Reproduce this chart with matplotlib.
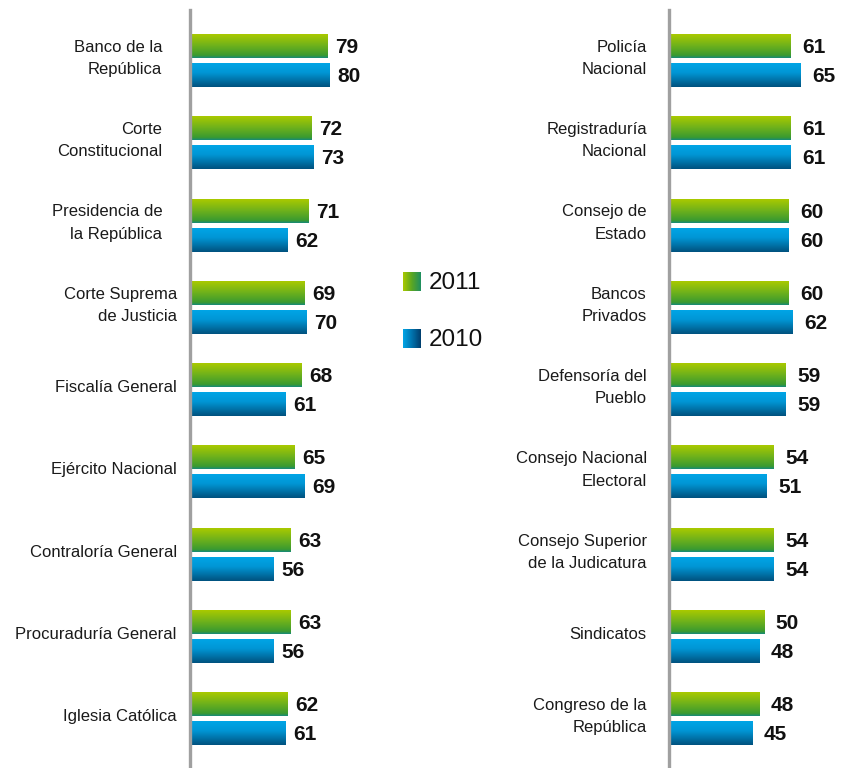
import numpy as np
import matplotlib
matplotlib.use("Agg")
import matplotlib.pyplot as plt
from matplotlib.colors import LinearSegmentedColormap

plt.rcParams['font.family'] = ['Liberation Sans', 'DejaVu Sans']

# datos
left_labels = ["Banco de la\nRepública", "Corte\nConstitucional", "Presidencia de\nla República",
               "Corte Suprema\nde Justicia", "Fiscalía General", "Ejército Nacional",
               "Contraloría General", "Procuraduría General", "Iglesia Católica"]
left_2011 = [79, 72, 71, 69, 68, 65, 63, 63, 62]
left_2010 = [80, 73, 62, 70, 61, 69, 56, 56, 61]

right_labels = ["Policía\nNacional", "Registraduría\nNacional", "Consejo de\nEstado",
                "Bancos\nPrivados", "Defensoría del\nPueblo", "Consejo Nacional\nElectoral",
                "Consejo Superior\nde la Judicatura", "Sindicatos", "Congreso de la\nRepública"]
right_2011 = [61, 61, 60, 60, 59, 54, 54, 50, 48]
right_2010 = [65, 61, 60, 62, 59, 51, 54, 48, 45]

years = ["2011", "2010"]

green = LinearSegmentedColormap.from_list("g", [(0, "#a9c900"), (0.45, "#72b31a"),
                                               (0.9, "#3a9a30"), (1, "#178a78")])
blue = LinearSegmentedColormap.from_list("b", [(0, "#00a5e6"), (0.4, "#0096d5"),
                                              (1, "#00527f")])
green_h = LinearSegmentedColormap.from_list("gh", ["#a9c900", "#5aa624", "#1f8f60"])
blue_h = LinearSegmentedColormap.from_list("bh", ["#00a5e6", "#0073ad", "#003e6e"])

W, H = 843, 768
fig = plt.figure(figsize=(W / 100, H / 100), dpi=100)

grad = np.linspace(0, 1, 64).reshape(-1, 1)
off = 0.176
bh = 0.29


def panel(x0px, wpx, xmin, scale, labels, v11, v10, pads, lpad):
    ax = fig.add_axes([x0px / W, 0, wpx / W, 1 - 10 / H])
    xmax = xmin + wpx / scale
    n = len(labels)
    for i in range(n):
        y = -i
        for v, yc, cm in [(v11[i], y + off, green), (v10[i], y - off, blue)]:
            ax.imshow(grad, extent=(xmin, v, yc - bh / 2, yc + bh / 2), origin="upper",
                      aspect="auto", cmap=cm, interpolation="bilinear", zorder=2)
            ax.annotate(str(v), (v, yc), xytext=(lpad, -1), textcoords="offset points",
                        ha="left", va="center", fontsize=15, fontweight="bold",
                        color="#111111")
        ax.annotate(labels[i], (xmin, y), xytext=(-pads[i], 1.5), textcoords="offset points",
                    ha="right", va="center", fontsize=12, color="#1a1a1a",
                    multialignment="right", linespacing=1.6, annotation_clip=False)
    ax.set_xlim(xmin, xmax)
    span = 758 / 82.3
    ax.set_ylim(0.614 - span, 0.614)
    ax.set_xticks([])
    ax.set_yticks([])
    for s in ["top", "right", "bottom"]:
        ax.spines[s].set_visible(False)
    ax.spines["left"].set_color("#a0a0a0")
    ax.spines["left"].set_linewidth(2.4)
    ax.spines["left"].set_zorder(3)
    ax.patch.set_alpha(0)
    return ax


panel(190, 200, 20, 2.33, left_labels, left_2011, left_2010,
      [20, 20, 20, 9.5, 9.5, 9.5, 9.5, 9.5, 9.5], 5.5)
panel(669, 174, 10.4, 2.4, right_labels, right_2011, right_2010, [16] * 9, 8.5)

# leyenda
hgrad = np.linspace(0, 1, 64).reshape(1, -1)
for yr, cm, ytop in [(years[0], green_h, 272), (years[1], blue_h, 329)]:
    lax = fig.add_axes([403 / W, 1 - (ytop + 19) / H, 18 / W, 19 / H])
    lax.imshow(hgrad, aspect="auto", cmap=cm, interpolation="bilinear")
    lax.axis("off")
    fig.text(429 / W, 1 - (ytop + 11) / H, yr, fontsize=17.5, va="center", ha="left",
             color="#111111")

fig.savefig("out.png", dpi=100)
